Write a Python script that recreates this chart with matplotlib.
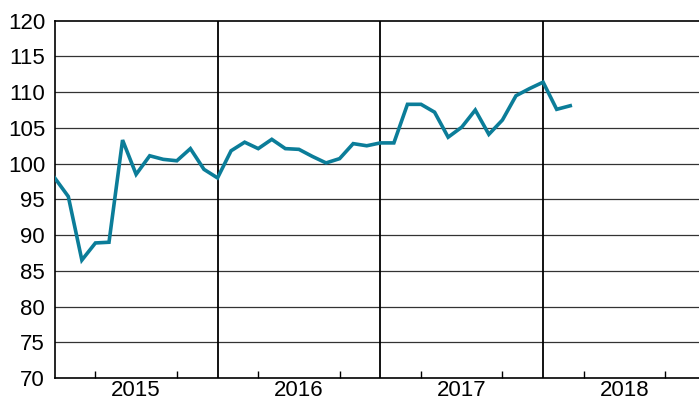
import matplotlib
matplotlib.use("Agg")
import matplotlib.pyplot as plt
import numpy as np

plt.rcParams['font.family'] = ['Liberation Sans', 'DejaVu Sans']

values_2015 = [98.0, 95.4, 86.5, 88.9, 89.0, 103.3, 98.5, 101.1, 100.6, 100.4, 102.1, 99.2]
values_2016 = [98.0, 101.8, 103.0, 102.1, 103.4, 102.1, 102.0, 101.0, 100.1, 100.7, 102.8, 102.5]
values_2017 = [102.9, 102.9, 108.3, 108.3, 107.2, 103.7, 105.1, 107.5, 104.1, 106.1, 109.5, 110.5]
values_2018 = [111.4, 107.6, 108.1]
years = [2015, 2016, 2017, 2018]
year_labels = ["2015", "2016", "2017", "2018"]

values = values_2015 + values_2016 + values_2017 + values_2018
x = 2015 + np.arange(len(values)) / 12.0

fig = plt.figure(figsize=(6.99, 4.03), dpi=100)
ax = fig.add_axes([0.0783, 0.062, 1.0 - 0.0783, 0.9486 - 0.062])

ax.set_ylim(70, 120)
ax.set_xlim(2015, 2015 + (699 - 54.7) / 162.8)

for yv in range(75, 120, 5):
    ax.axhline(yv, color='#333333', lw=0.9, zorder=1)
for yr in years[1:]:
    ax.axvline(yr, color='black', lw=1.3, zorder=1)

ax.plot(x, values, color='#0b7d99', lw=2.6, zorder=3, solid_joinstyle='miter')

ax.set_yticks(range(70, 121, 5))
ax.tick_params(axis='y', length=0, pad=7, labelsize=16)

ax.set_xticks([y + 0.5 for y in years])
ax.set_xticklabels(year_labels)
ax.tick_params(axis='x', which='major', length=0, pad=1.5, labelsize=16)
minor = [y + q / 4 for y in years for q in (1, 2, 3)]
ax.set_xticks(minor, minor=True)
ax.tick_params(axis='x', which='minor', direction='in', length=5, width=1, color='black')

for s in ['top', 'bottom', 'left']:
    ax.spines[s].set_color('black')
    ax.spines[s].set_linewidth(1.2)
ax.spines['right'].set_visible(False)

fig.savefig('out.png', dpi=100)
